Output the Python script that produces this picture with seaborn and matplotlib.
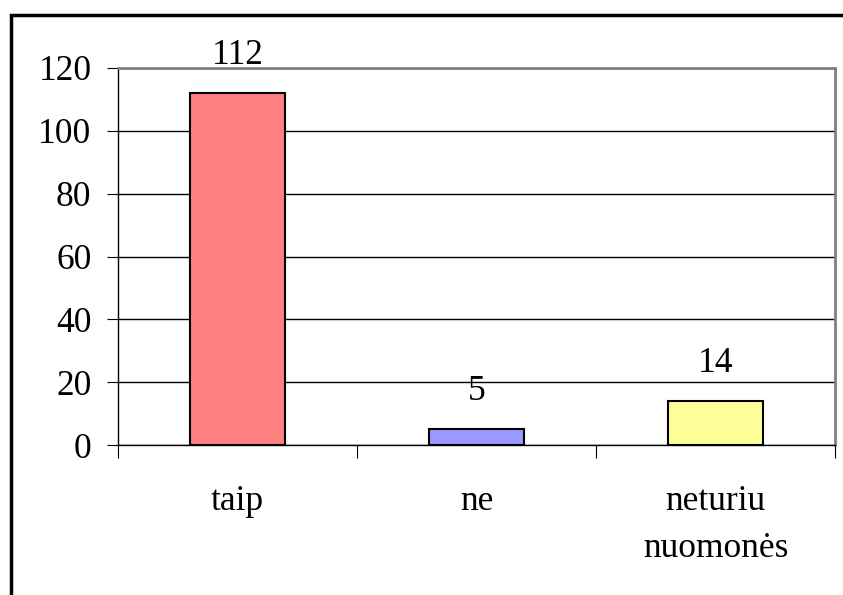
import numpy as np
import pandas as pd
import matplotlib
matplotlib.use("Agg")
import matplotlib.pyplot as plt
import matplotlib.patches as patches
import seaborn as sns

categories = ["taip", "ne", "neturiu\nnuomonės"]
values = [112, 5, 14]
colors = ["#FF8080", "#9999FF", "#FFFF99"]
yticks = [0, 20, 40, 60, 80, 100, 120]

data = pd.DataFrame({"cat": categories, "val": values})

sns.set_style("white", {"xtick.bottom": True, "ytick.left": True,
                        "text.color": "black", "xtick.color": "black",
                        "ytick.color": "black"})
plt.rcParams["font.family"] = ["Liberation Serif", "DejaVu Serif"]

fs = 25.5

fig = plt.figure(figsize=(8.43, 5.95), dpi=100)
ax = fig.add_axes([118 / 843, 150 / 595, (835 - 118) / 843, (445 - 68) / 595])

sns.barplot(data=data, x="cat", y="val", hue="cat", palette=colors, legend=False,
            width=0.4, edgecolor="black", linewidth=1.5, saturation=1, ax=ax)

ax.set_xlim(-0.5, 2.5)
ax.set_ylim(0, 120)
ax.set_yticks(yticks)
ax.set_yticklabels([str(t) for t in yticks], fontsize=fs, color="black")
ax.set_xlabel("")
ax.set_ylabel("")

ax.yaxis.grid(True, color="black", linewidth=1)
ax.set_axisbelow(True)

# category boundaries get the tick marks, labels sit in between
ax.set_xticks(range(len(categories)))
ax.set_xticklabels(categories, fontsize=fs, linespacing=1.55, va="top", color="black")
ax.set_xticks([-0.5, 0.5, 1.5, 2.5], minor=True)
ax.tick_params(axis="x", which="major", length=0, pad=29)
ax.tick_params(axis="x", which="minor", bottom=True, length=9, width=0.8,
               color="black", direction="out")
ax.tick_params(axis="y", which="major", left=True, length=8, width=0.8,
               color="black", direction="out", pad=11)

for side in ["left", "bottom"]:
    ax.spines[side].set_color("black")
    ax.spines[side].set_linewidth(1)
for side in ["top", "right"]:
    ax.spines[side].set_visible(True)
    ax.spines[side].set_color("#808080")
    ax.spines[side].set_linewidth(2)

for i, v in enumerate(values):
    ax.annotate(str(v), (i, v), xytext=(0, 27), textcoords="offset points",
                ha="center", va="center", fontsize=fs, color="black")

# outer chart frame (left and top edges visible)
frame = patches.Rectangle((11 / 843, -0.05), 1.1, 0.05 + (595 - 15) / 595,
                          transform=fig.transFigure, fill=False,
                          edgecolor="black", linewidth=2.5, clip_on=False)
fig.patches.append(frame)

fig.savefig("out.png", dpi=100)
